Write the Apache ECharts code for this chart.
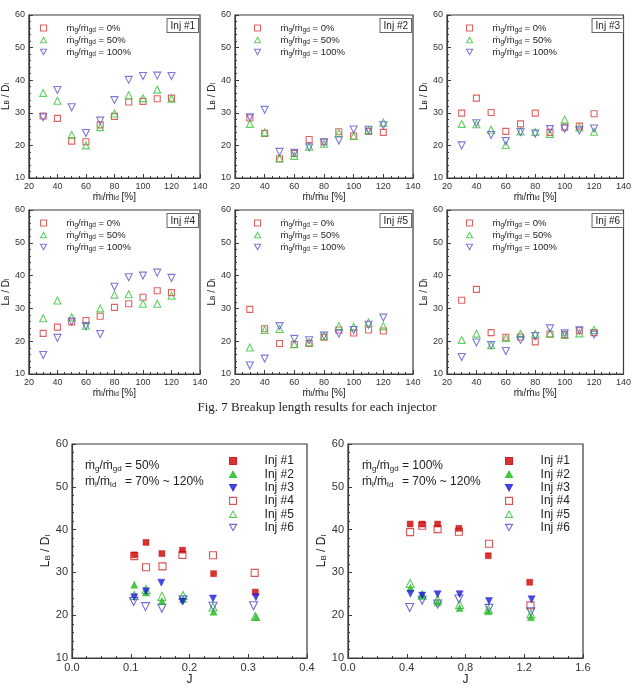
<!DOCTYPE html>
<html>
<head>
<meta charset="utf-8">
<script src="https://cdn.jsdelivr.net/npm/echarts@6/dist/echarts.min.js"></script>
<style>html,body{margin:0;background:#fff}#chart{width:634px;height:695px}</style>
</head>
<body>
<div id="chart"></div>
<script>
// flow-rate sweep, one row per gas ratio (0%, 50%, 100%)
const flowRates = [30, 40, 50, 60, 70, 80, 90, 100, 110, 120]
const ratioNames = ['0%', '50%', '100%']
const inj1 = [
  [29.0, 28.3, 21.3, 21.1, 26.3, 28.9, 33.3, 33.5, 34.3, 34.5],
  [36.1, 33.7, 23.3, 20.0, 25.6, 29.8, 35.4, 34.5, 37.1, 34.3],
  [28.6, 37.0, 31.7, 23.8, 27.6, 33.9, 40.1, 41.3, 41.4, 41.3]
]
const inj2 = [
  [28.4, 23.7, 15.9, 17.5, 21.8, 21.1, 24.2, 22.9, 24.3, 24.0],
  [26.6, 24.0, 16.0, 16.8, 19.6, 20.5, 23.8, 22.9, 24.7, 27.0],
  [28.6, 30.9, 18.0, 17.7, 19.4, 20.9, 21.5, 24.9, 24.8, 26.2]
]
const inj3 = [
  [29.9, 34.5, 30.1, 24.3, 26.6, 29.9, 24.0, 25.6, 25.9, 29.7],
  [26.6, 26.5, 24.8, 20.1, 24.3, 24.1, 23.5, 27.9, 25.5, 24.2],
  [20.0, 26.8, 23.2, 21.3, 24.1, 23.6, 25.0, 25.1, 24.6, 25.2]
]
const inj4 = [
  [22.4, 24.3, 25.9, 26.3, 27.6, 30.3, 31.4, 33.4, 35.4, 34.8],
  [27.0, 32.4, 27.3, 24.7, 30.0, 34.2, 34.3, 31.4, 31.4, 33.9],
  [15.8, 21.0, 26.0, 24.6, 22.2, 36.6, 39.5, 40.0, 40.9, 39.3]
]
const inj5 = [
  [29.7, 23.8, 19.3, 19.0, 19.3, 21.2, 23.4, 22.5, 23.4, 23.1],
  [18.1, 23.4, 23.7, 19.1, 19.7, 21.6, 24.6, 24.4, 25.7, 24.6],
  [12.6, 14.7, 24.6, 20.7, 20.3, 21.7, 22.3, 23.4, 25.0, 27.2]
]
const inj6 = [
  [32.5, 35.8, 22.6, 21.2, 21.3, 19.8, 22.1, 22.0, 23.2, 22.6],
  [20.4, 22.3, 18.8, 21.0, 22.2, 22.2, 22.4, 21.9, 22.4, 23.4],
  [15.2, 19.6, 18.8, 17.0, 20.4, 21.6, 23.9, 22.4, 23.3, 22.0]
]
const panelData = [inj1, inj2, inj3, inj4, inj5, inj6]
const panelLabels = ['Inj #1', 'Inj #2', 'Inj #3', 'Inj #4', 'Inj #5', 'Inj #6']

// momentum flux ratio J vs L_B/D_l, rows = Inj #1..#6
const injNames = ['Inj #1', 'Inj #2', 'Inj #3', 'Inj #4', 'Inj #5', 'Inj #6']
const j50 = [
  [0.106, 0.126, 0.153, 0.188, 0.241, 0.312],
  [0.106, 0.126, 0.153, 0.189, 0.241, 0.313],
  [0.106, 0.126, 0.152, 0.188, 0.240, 0.313],
  [0.106, 0.126, 0.154, 0.188, 0.240, 0.311],
  [0.106, 0.126, 0.153, 0.189, 0.240, 0.312],
  [0.105, 0.125, 0.153, 0.189, 0.240, 0.309]
]
const lb50 = [
  [34.1, 37.0, 34.4, 35.2, 29.7, 25.4],
  [27.1, 25.3, 23.3, 23.8, 20.8, 19.6],
  [24.2, 25.6, 27.6, 23.2, 23.9, 24.2],
  [33.8, 31.2, 31.4, 34.1, 34.0, 29.9],
  [24.6, 26.0, 24.4, 24.6, 21.9, 19.7],
  [23.2, 22.0, 21.6, 23.6, 22.1, 22.2]
]
const j100 = [
  [0.423, 0.505, 0.610, 0.755, 0.955, 1.237],
  [0.425, 0.505, 0.610, 0.760, 0.955, 1.245],
  [0.425, 0.505, 0.610, 0.760, 0.960, 1.250],
  [0.423, 0.505, 0.610, 0.755, 0.960, 1.242],
  [0.423, 0.505, 0.610, 0.760, 0.955, 1.245],
  [0.420, 0.505, 0.610, 0.755, 0.960, 1.245]
]
const lb100 = [
  [41.3, 41.3, 41.3, 40.3, 33.9, 27.7],
  [26.4, 24.7, 23.0, 21.7, 20.9, 19.5],
  [25.0, 24.6, 24.9, 24.9, 23.3, 23.7],
  [39.4, 40.9, 40.1, 39.5, 36.7, 22.3],
  [27.4, 24.7, 23.6, 22.5, 21.4, 20.3],
  [21.8, 23.5, 22.6, 23.8, 21.6, 20.8]
]

const chart = echarts.init(document.getElementById('chart'))
const FONT = '"Liberation Sans", Arial, sans-serif'
// path symbols so that legend icons keep their aspect
const square = 'path://M0,0H10V10H0Z'
const upTri = 'path://M5,0L10,9H0Z'
const downTri = 'path://M0,0L10,0L5,9Z'
const clear = 'rgba(255,255,255,0)'

const topGrids = [
  { left: 21, top: 15, width: 179, height: 163 },
  { left: 235, top: 15, width: 178, height: 163 },
  { left: 447, top: 15, width: 178, height: 163 },
  { left: 21, top: 210, width: 179, height: 164 },
  { left: 235, top: 210, width: 178, height: 164 },
  { left: 447, top: 210, width: 178, height: 164 }
]
const bottomGrids = [
  { left: 72, top: 444, width: 235, height: 214 },
  { left: 348, top: 444, width: 235, height: 214 }
]

const topStyles = [
  { symbol: square, size: 6, color: '#d23c3c' },
  { symbol: upTri, size: 7, color: '#3cc43c' },
  { symbol: downTri, size: 7, color: '#5a5ad0' }
]
const injStyles = [
  { symbol: square, size: 6, color: '#cc0000', fill: true },
  { symbol: upTri, size: 7, color: '#1fb81f', fill: true },
  { symbol: downTri, size: 7, color: '#1c1cdc', fill: true },
  { symbol: square, size: 7, color: '#cc2a2a', fill: false },
  { symbol: upTri, size: 8, color: '#33bb33', fill: false },
  { symbol: downTri, size: 8, color: '#4a4acc', fill: false }
]

const rich = (size) => ({ s: { fontSize: size, verticalAlign: 'bottom', fontFamily: FONT } })
const axisColor = '#3a3a3a'

const makeX = (gi, min, max, interval, name, small) => ({
  gridIndex: gi, type: 'value', min, max, interval,
  name, nameLocation: 'middle', nameGap: small ? 14 : 16,
  nameTextStyle: { fontSize: small ? 10 : 12, color: '#222', fontFamily: FONT, rich: rich(small ? 6.5 : 8) },
  axisLine: { show: true, lineStyle: { color: axisColor, width: 1.2 } },
  axisTick: { inside: true, length: 4, lineStyle: { color: axisColor } },
  minorTick: { show: true, splitNumber: 4, length: 2, lineStyle: { color: axisColor } },
  splitLine: { show: false },
  axisLabel: {
    fontSize: small ? 9 : 11, color: '#333', fontFamily: FONT, margin: 4,
    formatter: small ? '{value}' : (v) => v.toFixed(1)
  }
})
const makeY = (gi, small) => ({
  gridIndex: gi, type: 'value', min: 10, max: 60, interval: 10,
  name: 'L{s|B} / D{s|l}', nameLocation: 'middle', nameRotate: 90, nameGap: small ? 12 : 20,
  nameTextStyle: { fontSize: small ? 10 : 12, color: '#222', fontFamily: FONT, rich: rich(small ? 6.5 : 8) },
  axisLine: { show: true, lineStyle: { color: axisColor, width: 1.2 } },
  axisTick: { inside: true, length: 4, lineStyle: { color: axisColor } },
  minorTick: { show: true, splitNumber: 5, length: 2, lineStyle: { color: axisColor } },
  splitLine: { show: false },
  axisLabel: { fontSize: small ? 9 : 11, color: '#333', fontFamily: FONT, margin: 4 }
})

const grid = [...topGrids, ...bottomGrids].map(g => ({
  ...g, show: true, borderColor: axisColor, borderWidth: 1.2, backgroundColor: '#fff'
}))

const xAxis = []
const yAxis = []
topGrids.forEach((g, i) => {
  xAxis.push(makeX(i, 20, 140, 20, 'ṁ{s|l}/ṁ{s|ld} [%]', true))
  yAxis.push(makeY(i, true))
})
xAxis.push(makeX(6, 0, 0.4, 0.1, 'J', false))
xAxis.push(makeX(7, 0, 1.6, 0.4, 'J', false))
yAxis.push(makeY(6, false))
yAxis.push(makeY(7, false))

const series = []
panelData.forEach((rows, p) => {
  rows.forEach((vals, r) => {
    const st = topStyles[r]
    series.push({
      type: 'scatter', name: ratioNames[r], xAxisIndex: p, yAxisIndex: p,
      symbol: st.symbol, symbolSize: st.size,
      itemStyle: { color: clear, borderColor: st.color, borderWidth: 1.1 },
      data: flowRates.map((x, i) => [x, vals[i]])
    })
  })
})
;[[j50, lb50], [j100, lb100]].forEach(([js, lbs], k) => {
  injNames.forEach((name, n) => {
    const st = injStyles[n]
    series.push({
      type: 'scatter', name, xAxisIndex: 6 + k, yAxisIndex: 6 + k,
      symbol: st.symbol, symbolSize: st.size, z: st.fill ? 3 : 2,
      itemStyle: st.fill
        ? { color: st.color, borderColor: st.color, borderWidth: 0.5 }
        : { color: clear, borderColor: st.color, borderWidth: 1.1 },
      data: js[n].map((x, i) => [x, lbs[n][i]])
    })
  })
})

// legend icon box = icon size; text pushed right with padding
const legend = topGrids.map(g => ({
  orient: 'vertical', left: g.left + 19, top: g.top + 7, padding: 0,
  itemWidth: 6, itemHeight: 6, itemGap: 0, selectedMode: false,
  data: ratioNames,
  formatter: (name) => 'ṁ{s|g}/ṁ{s|gd} = ' + name,
  itemStyle: { borderWidth: 1.1 },
  textStyle: {
    fontSize: 9.5, lineHeight: 12, color: '#222', fontFamily: FONT, padding: [0, 0, 0, 15],
    rich: { s: { fontSize: 6.5, verticalAlign: 'bottom', lineHeight: 12, fontFamily: FONT } }
  }
}))
bottomGrids.forEach((g, k) => {
  legend.push({
    orient: 'vertical', left: k === 0 ? 229 : 505, top: 455, padding: 0,
    itemWidth: 7, itemHeight: 7, itemGap: 1.3, selectedMode: false,
    data: injNames,
    itemStyle: { borderWidth: 1.1 },
    textStyle: { fontSize: 12, lineHeight: 12, color: '#222', fontFamily: FONT, padding: [0, 0, 0, 23] }
  })
})

const graphic = []
topGrids.forEach((g, i) => {
  graphic.push({
    type: 'text', x: g.left + g.width - 2, y: g.top + 4, z: 10,
    style: {
      text: panelLabels[i], font: '10px ' + FONT, fill: '#222',
      align: 'right', verticalAlign: 'top',
      backgroundColor: '#fff', borderColor: '#666', borderWidth: 1, padding: [2, 3, 1, 3]
    }
  })
})
const annot = [
  { x: 85, lines: ['= 50%', '= 70% ~ 120%'], vx: 125 },
  { x: 362, lines: ['= 100%', '= 70% ~ 120%'], vx: 402 }
]
annot.forEach(a => {
  ;['ṁ{s|g}/ṁ{s|gd}', 'ṁ{s|l}/ṁ{s|ld}'].forEach((lbl, li) => {
    const y = 466 + li * 16
    graphic.push({
      type: 'text', x: a.x, y, z: 10,
      style: { text: lbl, font: '12px ' + FONT, fill: '#222', verticalAlign: 'middle', lineHeight: 14, rich: { s: { fontSize: 8, verticalAlign: 'bottom', lineHeight: 14, fontFamily: FONT } } }
    })
    graphic.push({
      type: 'text', x: a.vx, y, z: 10,
      style: { text: a.lines[li], font: '12px ' + FONT, fill: '#222', verticalAlign: 'middle' }
    })
  })
})
graphic.push({
  type: 'text', x: 317, y: 408, z: 10,
  style: { text: 'Fig. 7 Breakup length results for each injector', font: '13px "Liberation Serif", "Times New Roman", serif', fill: '#222', align: 'center', verticalAlign: 'middle' }
})

chart.setOption({
  animation: false,
  backgroundColor: '#fff',
  grid, xAxis, yAxis, series, legend, graphic
})
</script>
</body>
</html>
